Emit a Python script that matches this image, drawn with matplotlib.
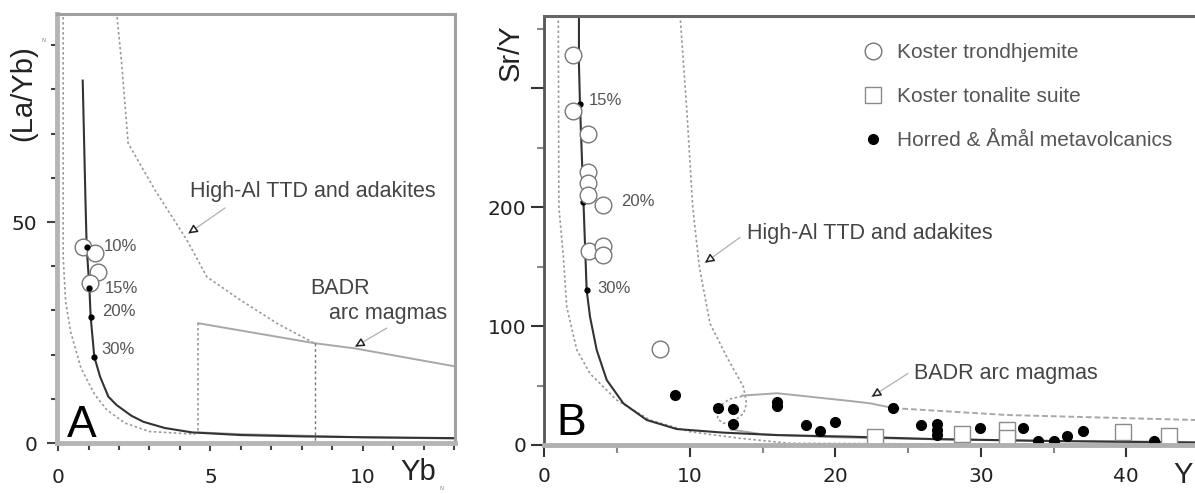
import matplotlib.pyplot as plt
from matplotlib.ticker import MultipleLocator, FixedFormatter, FixedLocator
from matplotlib.lines import Line2D

# ---------------- panel A : (La/Yb)N vs YbN ----------------
modelA_yb = [0.81, 0.85, 0.90, 0.94, 1.03, 1.07, 1.19, 1.38, 1.65, 1.92, 2.4, 2.8, 3.5, 4.4, 6.0, 8.0, 10.0, 13.05]
modelA_la = [82.0, 70.0, 55.0, 44.4, 35.0, 28.6, 19.5, 15.0, 10.5, 8.6, 6.2, 4.8, 3.4, 2.4, 1.8, 1.5, 1.3, 1.1]
stepsA_yb = [0.94, 1.03, 1.07, 1.19]
stepsA_la = [44.4, 35.0, 28.6, 19.5]
stepsA_lbl = ['10%', '15%', '20%', '30%']
trondA_yb = [0.83, 1.21, 1.32, 1.05]
trondA_la = [44.4, 42.9, 38.8, 36.1]
lowA_yb = [0.17, 0.17, 0.25, 0.42, 0.75, 1.2, 1.6, 2.2, 3.0, 4.5]
lowA_la = [97.5, 42.0, 32.0, 25.0, 17.0, 11.0, 7.5, 4.5, 2.6, 2.0]
highA_yb = [1.92, 2.09, 2.3, 3.2, 4.22, 4.88, 5.97, 7.2, 8.4]
highA_la = [97.5, 85.7, 67.8, 57.0, 46.0, 37.6, 32.4, 27.0, 22.6]
badrA_top_yb = [4.6, 8.4, 9.74, 13.05]
badrA_top_la = [27.1, 22.6, 21.4, 17.3]
badrA_bot_yb = [4.6, 6.0, 8.4, 10.0, 13.05]
badrA_bot_la = [2.4, 2.0, 1.6, 1.3, 1.0]
badrA_left_yb = [4.6, 4.6]
badrA_left_la = [27.1, 2.4]
badrA_div_yb = [8.43, 8.43]
badrA_div_la = [22.6, 0.5]

# ---------------- panel B : Sr/Y vs Y ----------------
modelB_y = [2.38, 2.38, 2.45, 2.69, 2.91, 3.14, 3.6, 4.29, 5.43, 7.04, 9.1, 12.3, 16.0, 21.0, 26.7, 35.0, 44.8]
modelB_sry = [361, 320, 287, 204.5, 130, 107.8, 79.8, 54.6, 35.0, 21.0, 13.4, 10.4, 8.3, 7.0, 5.0, 3.3, 2.0]
stepsB_y = [2.45, 2.69, 2.91]
stepsB_sry = [287, 204.5, 130]
stepsB_lbl = ['15%', '20%', '30%']
lowB_y = [0.96, 0.98, 1.0, 1.31, 1.54, 2.23, 3.14, 4.97, 7.26, 10.0, 13.45, 16.9, 25.0, 35.0, 44.8]
lowB_sry = [361, 280, 200, 158, 116, 80, 60, 37.8, 21.0, 11.2, 5.6, 1.4, 1.0, 0.8, 0.6]
highB_y = [9.33, 9.8, 10.2, 10.65, 11.39, 12.54, 13.68, 13.9, 13.7, 13.0, 12.3, 11.9, 12.0, 12.7, 13.6]
highB_sry = [361, 280, 200, 150, 102, 74, 49, 35, 26.6, 19.6, 18.2, 22.0, 32.0, 38.5, 41.0]
badrB_top_y = [13.6, 16.0, 21.0, 22.4, 24.0]
badrB_top_sry = [41.5, 43.5, 37.0, 35.0, 31.0]
badrB_tail_y = [24.0, 31.8, 44.8]
badrB_tail_sry = [31.0, 25.2, 21.0]
badrB_bot_y = [12.8, 15.0, 20.0, 25.0, 30.0, 35.0, 44.8]
badrB_bot_sry = [13.0, 9.0, 6.5, 5.2, 4.2, 3.5, 2.5]

trond_y = [1.99, 1.99, 3.02, 3.02, 3.02, 3.02, 4.06, 3.1, 4.0, 4.0, 7.95]
trond_sry = [328, 280.7, 261, 229.7, 220, 210, 201.7, 163, 167, 160, 80.4]
tonal_y = [22.7, 28.7, 31.8, 31.8, 39.8, 42.9]
tonal_sry = [7.0, 9.0, 12.6, 5.6, 10.6, 7.8]
volc_y = [8.98, 11.96, 12.95, 12.95, 16.0, 16.0, 17.98, 18.95, 19.97, 23.94, 25.9,
          27.0, 27.0, 27.0, 29.95, 32.9, 33.9, 35.0, 35.9, 37.0, 41.9]
volc_sry = [42, 30.8, 30, 17.4, 36, 33, 16.8, 11.8, 19.6, 30.8, 16.8,
            18, 13, 8, 14, 14, 3.4, 3.4, 7.6, 11.8, 3.4]

legend_labels = ['Koster trondhjemite', 'Koster tonalite suite', 'Horred & Åmål metavolcanics']

SANS = 'Liberation Sans'
dot = dict(color='#9a9a9a', lw=1.2, ls=(0, (1.5, 1.5)))
grayline = dict(color='#a8a8a8', lw=1.4)
model_kw = dict(color='#333333', lw=1.5)
circ = dict(marker='o', ms=12, mfc='white', mec='#777777', mew=1.0, ls='none')
sq = dict(marker='s', ms=12, mfc='white', mec='#8a8a8a', mew=1.0, ls='none')
filled = dict(marker='o', ms=7, mfc='black', mec='black', ls='none')


def pointer(ax, head, tail):
    # light grey leader line with a small open dark triangle at its head
    ax.annotate('', xy=head, xytext=tail,
                arrowprops=dict(arrowstyle='-', color='#b0b0b0', lw=0.9,
                                shrinkA=0, shrinkB=0))
    near = (head[0] + 0.18 * (tail[0] - head[0]), head[1] + 0.18 * (tail[1] - head[1]))
    ax.annotate('', xy=head, xytext=near,
                arrowprops=dict(arrowstyle='-|>', fc='white', ec='#222222', lw=1.1,
                                mutation_scale=13, shrinkA=0, shrinkB=0))


fig = plt.figure(figsize=(11.95, 4.94), dpi=100)
axA = fig.add_axes([0.0477, 0.1032, 0.3331, 0.8684])
axB = fig.add_axes([0.4555, 0.0992, 0.5445, 0.869])

# ---- A ----
axA.plot(lowA_yb, lowA_la, **dot)
axA.plot(highA_yb, highA_la, **dot)
axA.plot(badrA_top_yb, badrA_top_la, **grayline)
axA.plot(badrA_bot_yb, badrA_bot_la, **grayline)
axA.plot(badrA_left_yb, badrA_left_la, **dot)
axA.plot(badrA_div_yb, badrA_div_la, color='#777777', lw=1.0, ls=(0, (2, 2)))
axA.plot(modelA_yb, modelA_la, **model_kw)
axA.plot(trondA_yb, trondA_la, **circ)
axA.plot(stepsA_yb, stepsA_la, 'o', ms=3.5, color='black')
for xx, yy, lab, off in zip(stepsA_yb, stepsA_la, stepsA_lbl,
                            [(12, 0), (11, 0), (8, 3.5), (5, 5)]):
    axA.annotate(lab, (xx, yy), xytext=off, textcoords='offset points',
                 ha='left', va='center', fontsize=12, family=SANS, color='#555555')

axA.text(4.33, 56.8, 'High-Al TTD and adakites', fontsize=15.5, family=SANS,
         color='#444444', va='center')
pointer(axA, (4.27, 47.4), (5.48, 53.2))
axA.text(8.26, 35.0, 'BADR', fontsize=15.5, family=SANS, color='#444444', va='center')
axA.text(8.9, 29.4, 'arc magmas', fontsize=15.5, family=SANS, color='#444444', va='center')
pointer(axA, (9.74, 21.8), (10.78, 26.0))

axA.set_xlim(-0.033, 13.02)
axA.set_ylim(0, 97.06)
axA.xaxis.set_major_locator(FixedLocator([0, 5, 10]))
axA.xaxis.set_minor_locator(MultipleLocator(1))
axA.yaxis.set_major_locator(FixedLocator([0, 50]))
axA.yaxis.set_minor_locator(MultipleLocator(10))
axA.tick_params(which='both', direction='out', color='#444444', width=1.5)
axA.tick_params(axis='x', which='major', length=6, pad=12, labelsize=14.5, labelcolor='#222222')
axA.tick_params(axis='x', which='minor', length=5)
axA.tick_params(axis='y', which='major', length=7, pad=7, labelsize=14.5, labelcolor='#222222')
axA.tick_params(axis='y', which='minor', length=4)
for side in ['left', 'bottom']:
    axA.spines[side].set_color('#b5b5b5')
    axA.spines[side].set_linewidth(3.5)
for side in ['top', 'right']:
    axA.spines[side].set_color('#a0a0a0')
    axA.spines[side].set_linewidth(2.2)
axA.text(-0.085, 0.816, '(La/Yb)', transform=axA.transAxes, rotation=90,
         fontsize=21, family=SANS, color='#222222', ha='center', va='center')
axA.text(-0.04, 0.935, 'N', transform=axA.transAxes, fontsize=4, color='#888888')
axA.text(0.907, -0.068, 'Yb', transform=axA.transAxes, fontsize=21, family=SANS,
         color='#222222', ha='center', va='center')
axA.text(0.96, -0.11, 'N', transform=axA.transAxes, fontsize=4, color='#888888')
axA.text(0.025, 0.014, 'A', transform=axA.transAxes, fontsize=32, family=SANS,
         color='black', ha='left', va='baseline')

# ---- B ----
axB.plot(lowB_y, lowB_sry, **dot)
axB.plot(highB_y, highB_sry, **dot)
axB.plot(badrB_top_y, badrB_top_sry, **grayline)
axB.plot(badrB_tail_y, badrB_tail_sry, color='#a8a8a8', lw=1.4, ls=(0, (3, 1.5)))
axB.plot(badrB_bot_y, badrB_bot_sry, **grayline)
axB.plot(modelB_y, modelB_sry, **model_kw)
axB.plot(stepsB_y, stepsB_sry, 'o', ms=3.5, color='black')
for xx, yy, lab, off in zip(stepsB_y, stepsB_sry, stepsB_lbl,
                            [(6, 2.5), (27, 0), (7.5, 1.5)]):
    axB.annotate(lab, (xx, yy), xytext=off, textcoords='offset points',
                 ha='left', va='center', fontsize=12, family=SANS, color='#555555')
axB.plot(trond_y, trond_sry, **circ)
axB.plot(tonal_y, tonal_sry, **sq)
axB.plot(volc_y, volc_sry, **filled)

axB.text(13.9, 178, 'High-Al TTD and adakites', fontsize=15.5, family=SANS,
         color='#444444', va='center')
pointer(axB, (11.04, 153.2), (13.45, 174.5))
axB.text(25.4, 60.2, 'BADR arc magmas', fontsize=15.5, family=SANS,
         color='#444444', va='center')
pointer(axB, (22.5, 40.6), (25.0, 60.2))

handles = [Line2D([], [], **circ), Line2D([], [], **sq), Line2D([], [], **filled)]
leg = axB.legend(handles, legend_labels, loc='upper left', bbox_to_anchor=(0.492, 0.936),
                 frameon=False, borderpad=0, borderaxespad=0, handlelength=0.8,
                 handletextpad=0.75, labelspacing=1.2,
                 prop={'family': SANS, 'size': 15})
for t in leg.get_texts():
    t.set_color('#555555')

axB.set_xlim(0, 44.72)
axB.set_ylim(0, 360.8)
axB.xaxis.set_major_locator(FixedLocator([0, 10, 20, 30, 40]))
axB.xaxis.set_minor_locator(FixedLocator([5, 15, 25, 35]))
axB.yaxis.set_major_locator(FixedLocator([0, 100, 200, 300]))
axB.yaxis.set_major_formatter(FixedFormatter(['0', '100', '200', '']))
axB.yaxis.set_minor_locator(FixedLocator([50, 150, 250, 350]))
axB.tick_params(which='both', direction='out', color='#333333', width=1.5)
axB.tick_params(axis='x', which='major', length=8.5, pad=7, labelsize=14.5, labelcolor='#222222')
axB.tick_params(axis='x', which='minor', length=5.5, color='#888888')
axB.tick_params(axis='y', which='major', length=9.5, pad=3.5, labelsize=14.5, labelcolor='#222222')
axB.tick_params(axis='y', which='minor', length=5, color='#888888')
axB.spines['left'].set_color('#555555')
axB.spines['left'].set_linewidth(2)
axB.spines['top'].set_color('#666666')
axB.spines['top'].set_linewidth(2.2)
axB.spines['bottom'].set_color('#b0b0b0')
axB.spines['bottom'].set_linewidth(3.5)
axB.spines['right'].set_visible(False)
axB.text(-0.051, 0.913, 'Sr/Y', transform=axB.transAxes, rotation=90,
         fontsize=21, family=SANS, color='#222222', ha='center', va='center')
axB.text(0.982, -0.07, 'Y', transform=axB.transAxes, fontsize=21, family=SANS,
         color='#222222', ha='center', va='center')
axB.text(0.019, 0.023, 'B', transform=axB.transAxes, fontsize=32, family=SANS,
         color='black', ha='left', va='baseline')

fig.savefig('out.png', dpi=100)
